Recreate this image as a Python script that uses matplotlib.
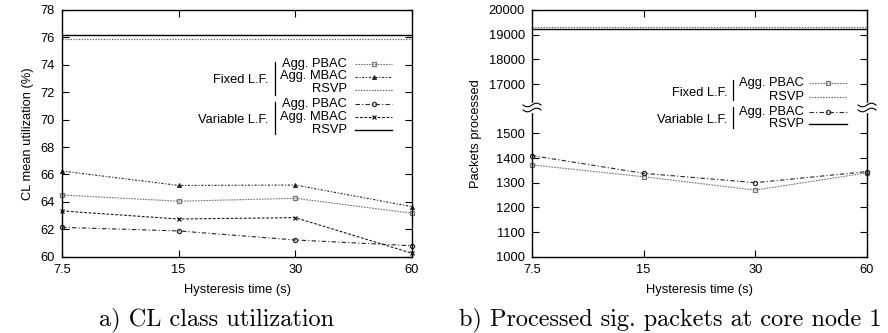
import numpy as np
import matplotlib
matplotlib.use("Agg")
import matplotlib.pyplot as plt
from matplotlib.lines import Line2D

# ---------------- data ----------------
hyst = [7.5, 15, 30, 60]
hyst_labels = ["7.5", "15", "30", "60"]

# panel a) CL mean utilization (%)
util_fixed_pbac = [64.5, 64.05, 64.26, 63.17]
util_fixed_mbac = [66.25, 65.2, 65.23, 63.65]
util_fixed_rsvp = [75.9, 75.9, 75.9, 75.9]
util_var_pbac = [62.14, 61.88, 61.22, 60.8]
util_var_mbac = [63.34, 62.75, 62.85, 60.25]
util_var_rsvp = [76.2, 76.2, 76.2, 76.2]

# panel b) packets processed at core node 1
pk_fixed_pbac = [1372, 1324, 1270, 1340]
pk_fixed_rsvp = [19310, 19310, 19310, 19310]
pk_var_pbac = [1410, 1338, 1300, 1345]
pk_var_rsvp = [19210, 19210, 19210, 19210]

util_ticks = [60, 62, 64, 66, 68, 70, 72, 74, 76, 78]
pk_ticks = [1000, 1100, 1200, 1300, 1400, 1500, 17000, 18000, 19000, 20000]

# ---------------- style ----------------
W, H = 888, 333
FONT = ["Liberation Sans", "DejaVu Sans"]
plt.rcParams["font.family"] = FONT
FS = 9.3

sty = {
    "fixed_pbac": dict(color="0.45", ls=(0, (1.5, 1)), marker="s", mfc="none", ms=3.0, mew=0.9, lw=0.8),
    "fixed_mbac": dict(color="0.15", ls=(0, (2, 1.5, 1, 1.5)), marker="^", mfc="0.1", ms=3.0, mew=0.6, lw=0.8),
    "fixed_rsvp": dict(color="0.35", ls=(0, (1, 1.2)), marker=None, lw=0.9),
    "var_pbac": dict(color="0.15", ls=(0, (4, 2, 1, 2)), marker="o", mfc="none", ms=3.0, mew=0.9, lw=0.8),
    "var_mbac": dict(color="0.1", ls=(0, (2.5, 1.5)), marker="x", ms=3.0, mew=0.9, lw=0.8),
    "var_rsvp": dict(color="black", ls="-", marker=None, lw=1.0),
}

fig = plt.figure(figsize=(W / 100, H / 100), dpi=100)


def fx(x):
    return x / W


def fy(y):
    return 1 - y / H


def make_axes(x0, x1, y0, y1):
    ax = fig.add_axes([fx(x0), fy(y1), fx(x1) - fx(x0), fy(y0) - fy(y1)])
    ax.set_xscale("log", base=2)
    ax.set_xlim(hyst[0], hyst[-1])
    ax.set_xticks(hyst)
    ax.set_xticklabels(hyst_labels)
    ax.minorticks_off()
    ax.tick_params(direction="in", top=True, right=True, length=5, width=0.8,
                   labelsize=FS, pad=5)
    for s in ax.spines.values():
        s.set_linewidth(1.0)
    ax.set_xlabel("Hysteresis time (s)", fontsize=FS, labelpad=6)
    return ax


# ---------- panel a ----------
axa = make_axes(62, 412, 10, 256.7)
axa.set_ylim(60, 78)
axa.set_yticks(util_ticks)
axa.set_ylabel("CL mean utilization (%)", fontsize=FS, labelpad=5)
axa.plot(hyst, util_fixed_pbac, **sty["fixed_pbac"])
axa.plot(hyst, util_fixed_mbac, **sty["fixed_mbac"])
axa.plot(hyst, util_fixed_rsvp, **sty["fixed_rsvp"])
axa.plot(hyst, util_var_pbac, **sty["var_pbac"])
axa.plot(hyst, util_var_mbac, **sty["var_mbac"])
axa.plot(hyst, util_var_rsvp, **sty["var_rsvp"])
for a in axa.lines:
    a.set_clip_on(False)

# ---------- panel b (broken axis) ----------
def fwd(y):
    y = np.asarray(y, float)
    return np.where(y <= 1600, y, np.where(y >= 16000, 1600 + (y - 16000) / 10.0, 1600))


def inv(t):
    t = np.asarray(t, float)
    return np.where(t <= 1600, t, 16000 + (t - 1600) * 10.0)


axb = make_axes(532, 867, 10, 256.7)
axb.set_yscale("function", functions=(fwd, inv))
axb.set_ylim(1000, 20000)
axb.set_yticks(pk_ticks)
axb.set_yticklabels([str(t) for t in pk_ticks])
axb.minorticks_off()
axb.set_ylabel("Packets processed", fontsize=FS, labelpad=5)
axb.plot(hyst, pk_fixed_pbac, **sty["fixed_pbac"])
axb.plot(hyst, pk_fixed_rsvp, **sty["fixed_rsvp"])
axb.plot(hyst, pk_var_pbac, **sty["var_pbac"])
axb.plot(hyst, pk_var_rsvp, **sty["var_rsvp"])
for a in axb.lines:
    a.set_clip_on(False)

# break marks on both spines
ybreak = 107.5
for xs in (532, 867):
    fig.patches.append(plt.Rectangle((fx(xs - 3), fy(ybreak + 4.5)), fx(6), fy(0) - fy(9),
                                     transform=fig.transFigure, color="white", zorder=10))
    t = np.linspace(-9, 9, 40)
    for dy in (-2.5, 2.5):
        yy = ybreak + dy - 1.8 * np.sin(t / 9 * np.pi)
        fig.add_artist(Line2D(fx(xs + t), fy(yy), transform=fig.transFigure,
                              color="black", lw=0.8, zorder=11))


# ---------- legends ----------
def legend(entries, groups, x_text, x_l0, x_l1, x_group, x_bar):
    for label, y, key in entries:
        fig.text(fx(x_text), fy(y), label, ha="right", va="center", fontsize=FS)
        s = dict(sty[key])
        marker = s.pop("marker")
        ms = s.pop("ms", None)
        mew = s.pop("mew", None)
        mfc = s.pop("mfc", None)
        fig.add_artist(Line2D([fx(x_l0), fx(x_l1)], [fy(y), fy(y)], transform=fig.transFigure,
                              color=s["color"], ls=s["ls"], lw=s["lw"]))
        if marker:
            fig.add_artist(Line2D([fx((x_l0 + x_l1) / 2)], [fy(y)], transform=fig.transFigure,
                                  marker=marker, ms=ms, mew=mew, mfc=mfc if mfc else s["color"],
                                  color=s["color"], ls="none"))
    for label, yc, yb0, yb1 in groups:
        fig.text(fx(x_group), fy(yc), label, ha="right", va="center", fontsize=FS)
        fig.add_artist(Line2D([fx(x_bar), fx(x_bar)], [fy(yb0), fy(yb1)],
                              transform=fig.transFigure, color="black", lw=0.9))


legend([("Agg. PBAC", 63.5, "fixed_pbac"),
        ("Agg. MBAC", 76.5, "fixed_mbac"),
        ("RSVP", 89.5, "fixed_rsvp"),
        ("Agg. PBAC", 104, "var_pbac"),
        ("Agg. MBAC", 117, "var_mbac"),
        ("RSVP", 130, "var_rsvp")],
       [("Fixed L.F.", 80, 62, 95), ("Variable L.F.", 120, 102, 134)],
       347, 355, 392, 268, 274.5)

legend([("Agg. PBAC", 83.5, "fixed_pbac"),
        ("RSVP", 96.5, "fixed_rsvp"),
        ("Agg. PBAC", 111.5, "var_pbac"),
        ("RSVP", 124.5, "var_rsvp")],
       [("Fixed L.F.", 93, 80, 100), ("Variable L.F.", 120, 107, 128)],
       804, 809, 847, 727, 732.5)

# ---------- captions ----------
fig.text(fx(217), fy(320), "a) CL class utilization", ha="center", va="center",
         fontsize=17.5, family=["cmr10", "DejaVu Serif"])
fig.text(fx(670), fy(320), "b) Processed sig. packets at core node 1", ha="center",
         va="center", fontsize=17.5, family=["cmr10", "DejaVu Serif"])

fig.savefig("out.png", dpi=100)
